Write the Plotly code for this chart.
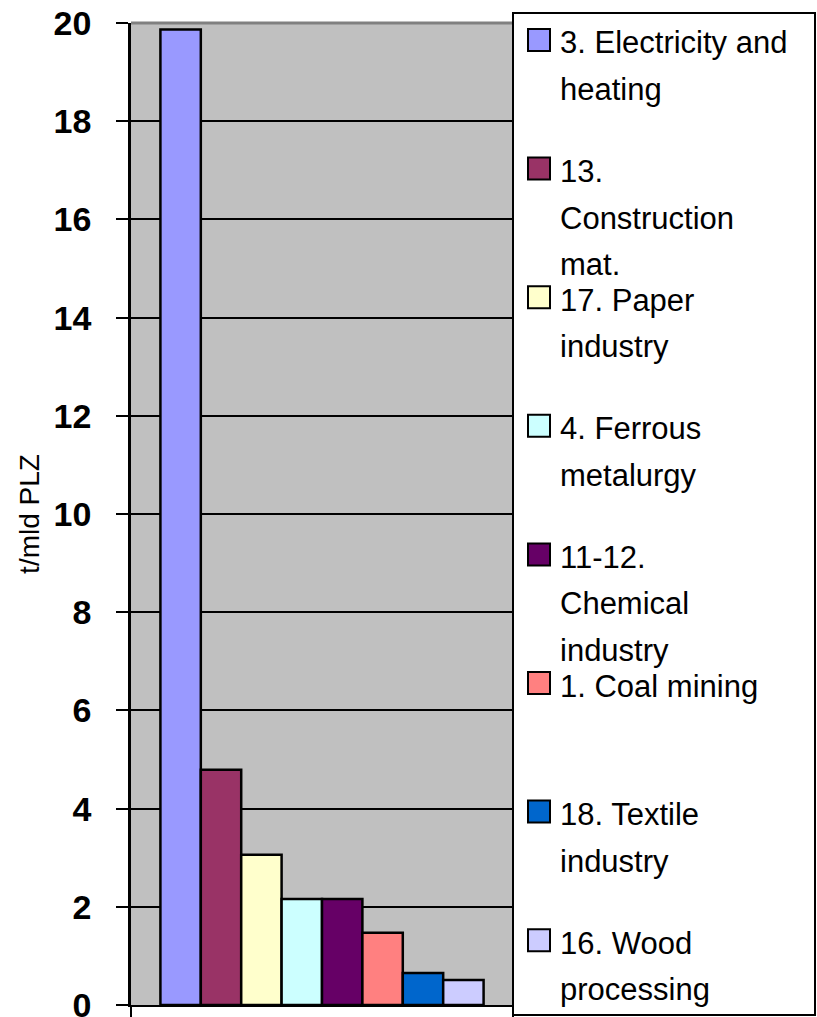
import plotly.graph_objects as go

# Sector emission intensities (t/mld PLZ)
sectors = [
    "3. Electricity and<br>heating",
    "13.<br>Construction<br>mat.",
    "17. Paper<br>industry",
    "4. Ferrous<br>metalurgy",
    "11-12.<br>Chemical<br>industry",
    "1. Coal mining",
    "18. Textile<br>industry",
    "16. Wood<br>processing",
]
values = [19.87, 4.79, 3.06, 2.16, 2.16, 1.47, 0.65, 0.51]
colors = ["#9999FF", "#993366", "#FFFFCC", "#CCFFFF",
          "#660066", "#FF8080", "#0066CC", "#CCCCFF"]
y_ticks = [0, 2, 4, 6, 8, 10, 12, 14, 16, 18, 20]
y_title = "t/mld PLZ"

W, H = 817, 1017
PL, PR, PT, PB = 131, 513, 23, 1005  # plot-area edges in pixels


def px_x(x):
    return (x - PL) / (PR - PL)


def px_y(y):
    return (PB - y) / (PB - PT)


fig = go.Figure()
for name, val, col in zip(sectors, values, colors):
    fig.add_trace(go.Bar(
        x=[""], y=[val], name=name.replace("<br>", " "),
        marker=dict(color=col, line=dict(color="black", width=2.5)),
        showlegend=False,
    ))

fig.update_layout(
    width=W, height=H,
    margin=dict(l=PL, r=W - PR, t=PT, b=H - PB, autoexpand=False),
    paper_bgcolor="white",
    plot_bgcolor="#C0C0C0",
    barmode="group",
    bargap=0.154,
    bargroupgap=0,
    font=dict(family="Liberation Sans, Arial, sans-serif", color="black"),
)

fig.update_xaxes(
    showticklabels=False, showgrid=False, zeroline=False,
    showline=True, linecolor="black", linewidth=2,
    ticks="outside", tickson="boundaries", ticklen=12, tickwidth=2,
    tickcolor="black",
)

fig.update_yaxes(
    range=[0, 20], tickvals=y_ticks,
    showgrid=True, gridcolor="black", gridwidth=2,
    zeroline=False,
    showline=True, linecolor="black", linewidth=2.5,
    ticks="outside", ticklen=12, tickwidth=2, tickcolor="black",
    tickfont=dict(size=34, weight="bold", color="black"),
    ticklabelstandoff=18,
    ticklabeloverflow="allow",
    title=dict(text=y_title, font=dict(size=28, color="black"), standoff=6),
)

shapes = []
annotations = []

# grey plot-area border along the top
shapes.append(dict(type="line", xref="paper", yref="paper",
                   x0=0, x1=1, y0=1, y1=1,
                   line=dict(color="#808080", width=3), layer="above"))

# legend box
shapes.append(dict(type="rect", xref="paper", yref="paper",
                   x0=px_x(513), x1=px_x(815), y0=px_y(1015), y1=px_y(13),
                   fillcolor="white", line=dict(color="black", width=2),
                   layer="above"))

item_top = 40      # centre of first legend swatch
item_step = 128.6  # spacing between legend entries
line_step = 46.5   # spacing between text lines of one entry
for i, (name, col) in enumerate(zip(sectors, colors)):
    cy = item_top + i * item_step
    shapes.append(dict(type="rect", xref="paper", yref="paper",
                       x0=px_x(528), x1=px_x(550),
                       y0=px_y(cy + 11), y1=px_y(cy - 11),
                       fillcolor=col, line=dict(color="black", width=2),
                       layer="above"))
    for j, line in enumerate(name.split("<br>")):
        annotations.append(dict(
            xref="paper", yref="paper",
            x=px_x(558), y=px_y(cy + 3 + j * line_step),
            xanchor="left", yanchor="middle",
            text=line, showarrow=False,
            font=dict(size=31, color="black"),
        ))

fig.update_layout(shapes=shapes, annotations=annotations)

fig.write_html("out.html")
